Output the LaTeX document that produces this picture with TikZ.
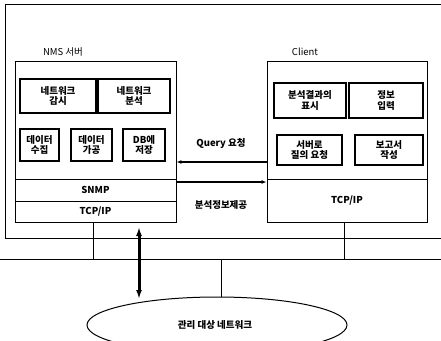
\documentclass[tikz,border=0pt]{standalone}
\usepackage{fontspec}
\setmainfont{Noto Sans CJK KR}
\usetikzlibrary{arrows.meta,shapes.geometric}
\tikzset{
  box/.style={draw, line width=0.9pt, inner sep=0pt, anchor=center},
  inbox/.style={draw, line width=1.3pt, inner sep=0pt, anchor=center, align=center,
     font=\fontsize{9.5}{10.5}\selectfont\bfseries},
  lbl/.style={inner sep=0pt, font=\fontsize{9.5}{11}\selectfont},
  blbl/.style={inner sep=0pt, font=\fontsize{9.5}{11}\selectfont\bfseries},
  wire/.style={line width=0.9pt},
  arr/.style={line width=1.1pt, -{Latex[length=5pt,width=4pt]}},
}
\begin{document}
\begin{tikzpicture}[x=1pt,y=-1pt]
\useasboundingbox (0,0) rectangle (441,340);
\clip (0,0) rectangle (441,340);
% outer frame
\draw[wire] (445,4) -- (5,4) -- (5,238) -- (445,238);
\draw[wire] (-2,259) -- (445,259);
% NMS server
\node[lbl] (nmslbl) at (63,52) {NMS 서버};
\node[box, minimum width=161pt, minimum height=161pt] (nms) at (95.5,141.5) {};
\node[inbox, minimum width=76pt, minimum height=34pt] (netmon) at (58,96) {네트워크\\감시};
\node[inbox, minimum width=72pt, minimum height=34pt] (netana) at (134,96) {네트워크\\분석};
\node[inbox, minimum width=39pt, minimum height=32pt] (d1) at (39.5,145) {데이터\\수집};
\node[inbox, minimum width=41pt, minimum height=32pt] (d2) at (91.5,145) {데이터\\가공};
\node[inbox, minimum width=42pt, minimum height=32pt] (d3) at (144,145) {DB에\\저장};
\node[box, minimum width=161pt, minimum height=22pt, blbl] (snmp) at (95.5,190) {SNMP};
\node[box, minimum width=161pt, minimum height=21pt, blbl] (tcp1) at (95.5,211.5) {TCP/IP};
% Client
\node[lbl] (clilbl) at (305,52) {Client};
\node[box, minimum width=160pt, minimum height=161pt] (cli) at (347,141.5) {};
\node[inbox, minimum width=72pt, minimum height=35pt] (disp) at (310,100.5) {분석결과의\\표시};
\node[inbox, minimum width=74pt, minimum height=35pt] (inp) at (386,100.5) {정보\\입력};
\node[inbox, minimum width=65pt, minimum height=30pt] (qry) at (309.5,150) {서버로\\질의 요청};
\node[inbox, minimum width=68pt, minimum height=30pt] (rep) at (389,150) {보고서\\작성};
\node[box, minimum width=160pt, minimum height=43pt, blbl] (tcp2) at (347,200.5) {TCP/IP};
% messages
\coordinate (qy) at (0,162);
\coordinate (ay) at (0,182);
\draw[arr] (cli.west |- qy) -- (nms.east |- qy);
\draw[arr] (nms.east |- ay) -- (cli.west |- ay);
\node[blbl] (qlbl) at (221,144) {Query 요청};
\node[blbl] (albl) at (221,205) {분석정보제공};
% network
\coordinate (bus1) at (93,259);
\coordinate (bus2) at (344,259);
\coordinate (bus3) at (221,259);
\draw[wire] (tcp1.south -| bus1) -- (bus1);
\draw[wire] (tcp2.south -| bus2) -- (bus2);
\node[draw, line width=1pt, ellipse, minimum width=260pt, minimum height=56pt, inner sep=0pt] (net) at (217,325) {};
\node[blbl] (netlbl) at (215,325) {관리 대상 네트워크};
\draw[wire] (bus3) -- (net.north -| bus3);
\coordinate (ta) at (139,227);
\coordinate (tb) at (139,299);
\draw[line width=3pt, {Latex[length=9pt,width=6pt]}-{Latex[length=9pt,width=6pt]}] (ta) -- (tb);
\end{tikzpicture}
\end{document}
